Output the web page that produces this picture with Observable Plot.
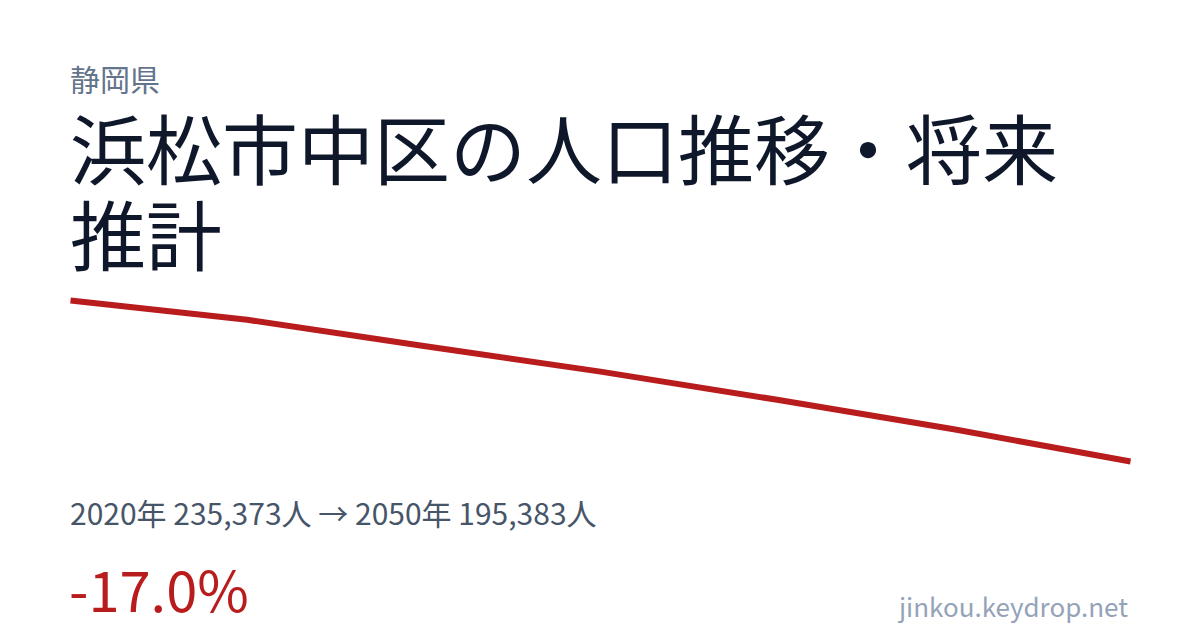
<!DOCTYPE html>
<html>
<head>
<meta charset="utf-8">
<script src="https://cdn.jsdelivr.net/npm/d3@7"></script>
<script src="https://cdn.jsdelivr.net/npm/@observablehq/plot@0.6"></script>
<style>
  html, body { margin: 0; padding: 0; background: #ffffff; }
  body { width: 1200px; height: 630px; position: relative; overflow: hidden; font-family: "Noto Sans CJK JP", "Noto Sans", sans-serif; }
  .t { position: absolute; white-space: nowrap; line-height: 1; }
  #pref { left: 70px; top: 63px; font-size: 30px; color: #64748b; }
  #title { left: 70px; top: 103px; width: 1060px; font-size: 76px; line-height: 86px; color: #0f172a; white-space: normal; }
  #stats { left: 70px; top: 497px; font-size: 30px; color: #475569; }
  #change { left: 69px; top: 554px; font-size: 56px; line-height: 1.2; color: #b91c1c; }
  #site { right: 72px; top: 590px; font-size: 26px; line-height: 1.2; color: #94a3b8; }
  #chart { position: absolute; left: 0; top: 290px; }
</style>
</head>
<body>
<div class="t" id="pref">静岡県</div>
<div class="t" id="title">浜松市中区の人口推移・将来推計</div>
<div id="chart"></div>
<div class="t" id="stats">2020年 235,373人 → 2050年 195,383人</div>
<div class="t" id="change">-17.0%</div>
<div class="t" id="site">jinkou.keydrop.net</div>
<script>
const years = [2020, 2025, 2030, 2035, 2040, 2045, 2050];
const population = [235373, 230580, 224091, 217701, 210713, 203373, 195383];

const data = years.map((y, i) => ({year: y, pop: population[i]}));

const chart = Plot.plot({
  width: 1200,
  height: 182,
  marginLeft: 70,
  marginRight: 70,
  marginTop: 10,
  marginBottom: 11,
  x: {domain: [2020, 2050], axis: null},
  y: {domain: [d3.min(population), d3.max(population)], axis: null},
  style: {background: "transparent", overflow: "visible"},
  marks: [
    Plot.line(data, {x: "year", y: "pop", stroke: "#b91c1c", strokeWidth: 6, strokeLinecap: "butt", strokeLinejoin: "round"})
  ]
});
document.getElementById("chart").appendChild(chart);
</script>
</body>
</html>
